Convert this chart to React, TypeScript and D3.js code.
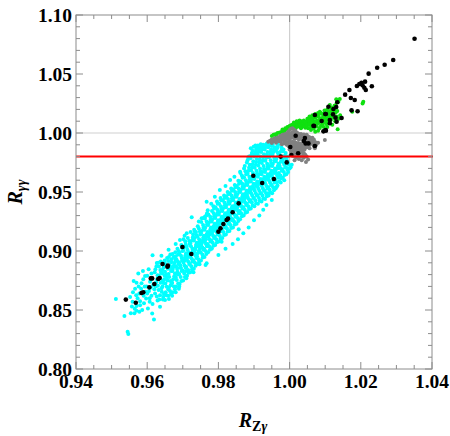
import React from 'react';
import * as d3 from 'd3';

// axis ticks and reference lines
const xTicks = [0.94, 0.96, 0.98, 1.0, 1.02, 1.04];
const yTicks = [0.8, 0.85, 0.9, 0.95, 1.0, 1.05, 1.1];
const redLineY = 0.98;
const gridX = 1.0;
const gridY = 1.0;

// points: [R_Zgamma, R_gammagamma]
const cyanPoints: [number, number][] = [
  [0.9512, 0.8593], [0.9536, 0.8449], [0.9545, 0.8316], [0.9547, 0.8297], [0.9554, 0.8472],
  [0.9552, 0.861], [0.9557, 0.853], [0.9564, 0.8472], [0.957, 0.8494], [0.9578, 0.8486],
  [0.9569, 0.8624], [0.957, 0.8534], [0.9591, 0.8557], [0.9594, 0.8788], [0.957, 0.8731],
  [0.9584, 0.8726], [0.9578, 0.864], [0.9597, 0.8598], [0.9607, 0.857], [0.9602, 0.8513],
  [0.9614, 0.847], [0.9619, 0.842], [0.9562, 0.8745], [0.9575, 0.881], [0.9588, 0.883],
  [0.96, 0.879], [0.9566, 0.868], [0.9583, 0.868], [0.959, 0.862], [0.9598, 0.87],
  [0.9605, 0.866], [0.9559, 0.857], [0.9586, 0.85], [0.9604, 0.8845], [0.9612, 0.881],
  [0.9615, 0.8963], [0.958, 0.8575], [0.9595, 0.8655], [0.9608, 0.874], [0.9612, 0.862],
  [0.9617, 0.8712], [0.956, 0.865], [0.9573, 0.86], [0.958, 0.854], [0.9593, 0.87],
  [0.96, 0.864], [0.961, 0.869], [0.9607, 0.86], [0.9615, 0.855], [0.9589, 0.876],
  [0.9576, 0.87], [0.9565, 0.851], [0.9612, 0.876],
  [0.9622, 0.864], [0.9624, 0.87], [0.9628, 0.876], [0.9621, 0.882], [0.9626, 0.887],
  [0.9629, 0.858], [0.9634, 0.859], [0.9636, 0.8527], [0.9632, 0.867], [0.9638, 0.873],
  [0.9633, 0.879], [0.9637, 0.884], [0.9631, 0.89],
  [0.9627, 0.8615], [0.962, 0.8675], [0.9625, 0.8735], [0.9629, 0.8795], [0.9623, 0.8845],
  [0.9627, 0.8898], [0.9636, 0.8625], [0.963, 0.8705], [0.9635, 0.8765], [0.9639, 0.8815],
  [0.9633, 0.8868], [0.9638, 0.8912],
  [0.9641, 0.8654], [0.9645, 0.861], [0.9643, 0.87], [0.9648, 0.876], [0.9642, 0.881],
  [0.9646, 0.886], [0.9649, 0.892], [0.9644, 0.8745], [0.9647, 0.8635], [0.964, 0.8685],
  [0.9646, 0.8728], [0.9649, 0.879], [0.9643, 0.8838], [0.9647, 0.8895], [0.9644, 0.859],
  [0.965, 0.8584], [0.9655, 0.8697], [0.9652, 0.865], [0.9657, 0.875], [0.9653, 0.88],
  [0.9658, 0.885], [0.9651, 0.889], [0.9656, 0.894], [0.9659, 0.862], [0.9654, 0.8625],
  [0.9659, 0.8675], [0.9651, 0.8725], [0.9656, 0.8778], [0.965, 0.8825], [0.9654, 0.8872],
  [0.9659, 0.8915],
  [0.9661, 0.8593], [0.9664, 0.866], [0.9669, 0.8726], [0.9662, 0.878], [0.9667, 0.883],
  [0.9663, 0.888], [0.9668, 0.893], [0.9665, 0.897], [0.9666, 0.871], [0.9669, 0.886],
  [0.9667, 0.8635], [0.9661, 0.869], [0.9665, 0.8745], [0.966, 0.8805], [0.9664, 0.8855],
  [0.9668, 0.8905], [0.9661, 0.895],
  [0.9671, 0.865], [0.9675, 0.87], [0.9673, 0.876], [0.9678, 0.881], [0.9672, 0.885],
  [0.9677, 0.89], [0.9674, 0.895], [0.9679, 0.899], [0.9676, 0.887], [0.9678, 0.8675],
  [0.967, 0.873], [0.9676, 0.8785], [0.9671, 0.883], [0.9675, 0.8878], [0.9679, 0.8925],
  [0.9671, 0.8975],
  [0.9683, 0.8754], [0.9681, 0.87], [0.9686, 0.88], [0.9684, 0.885], [0.9688, 0.889],
  [0.9682, 0.893], [0.9687, 0.897], [0.9685, 0.902], [0.9692, 0.9093], [0.9689, 0.868],
  [0.9687, 0.8725], [0.968, 0.8778], [0.9685, 0.8825], [0.9681, 0.887], [0.9686, 0.891],
  [0.968, 0.8955], [0.9688, 0.9],
  [0.9691, 0.872], [0.9694, 0.878], [0.9697, 0.883], [0.9693, 0.888], [0.9698, 0.892],
  [0.9695, 0.896], [0.9699, 0.9], [0.9696, 0.905], [0.9692, 0.886], [0.9696, 0.8745],
  [0.969, 0.8805], [0.9695, 0.8855], [0.969, 0.89], [0.9697, 0.894], [0.9691, 0.8985],
  [0.9698, 0.903],
  [0.9701, 0.875], [0.9704, 0.881], [0.9708, 0.886], [0.9702, 0.89], [0.9706, 0.894],
  [0.9709, 0.898], [0.9703, 0.903], [0.9707, 0.908], [0.9705, 0.892], [0.9709, 0.883],
  [0.9706, 0.878], [0.97, 0.8835], [0.9705, 0.8878], [0.97, 0.8918], [0.9707, 0.896],
  [0.9701, 0.9005], [0.9708, 0.9055], [0.9702, 0.91],
  [0.9712, 0.879], [0.9715, 0.884], [0.9718, 0.889], [0.9711, 0.893], [0.9716, 0.897],
  [0.9713, 0.901], [0.9719, 0.906], [0.9714, 0.911], [0.9717, 0.895], [0.9716, 0.8815],
  [0.971, 0.8865], [0.9715, 0.891], [0.971, 0.8952], [0.9717, 0.899], [0.9711, 0.9035],
  [0.9718, 0.9085],
  [0.9721, 0.882], [0.9724, 0.887], [0.9727, 0.891], [0.9722, 0.896], [0.9728, 0.9],
  [0.9723, 0.904], [0.9726, 0.909], [0.9729, 0.914], [0.9725, 0.9285], [0.9725, 0.898],
  [0.9726, 0.8845], [0.972, 0.889], [0.9725, 0.8935], [0.972, 0.8978], [0.9727, 0.902],
  [0.9721, 0.9065], [0.9728, 0.9115], [0.9722, 0.916],
  [0.9731, 0.885], [0.9734, 0.89], [0.9738, 0.894], [0.9732, 0.899], [0.9736, 0.903],
  [0.9739, 0.907], [0.9733, 0.911], [0.9737, 0.916], [0.9735, 0.901], [0.9736, 0.8875],
  [0.973, 0.892], [0.9735, 0.8965], [0.973, 0.9008], [0.9737, 0.905], [0.9731, 0.909],
  [0.9738, 0.9135], [0.9732, 0.918],
  [0.9741, 0.889], [0.9744, 0.893], [0.9747, 0.8887], [0.9742, 0.898], [0.9748, 0.902],
  [0.9743, 0.906], [0.9746, 0.91], [0.9749, 0.914], [0.9745, 0.919], [0.9747, 0.904],
  [0.9746, 0.891], [0.974, 0.8955], [0.9745, 0.9], [0.974, 0.904], [0.9747, 0.908],
  [0.9741, 0.912], [0.9748, 0.9165], [0.9742, 0.921],
  [0.9751, 0.892], [0.9755, 0.897], [0.9758, 0.901], [0.9752, 0.905], [0.9756, 0.909],
  [0.9759, 0.913], [0.9753, 0.917], [0.9757, 0.922], [0.9754, 0.907], [0.9758, 0.928],
  [0.9756, 0.8945], [0.975, 0.899], [0.9755, 0.903], [0.975, 0.907], [0.9757, 0.911],
  [0.9751, 0.915], [0.9758, 0.9195], [0.9752, 0.9245],
  [0.9761, 0.895], [0.9764, 0.9], [0.9768, 0.904], [0.9762, 0.908], [0.9766, 0.912],
  [0.9769, 0.916], [0.9763, 0.92], [0.9767, 0.925], [0.9765, 0.91], [0.9768, 0.932],
  [0.9766, 0.8975], [0.976, 0.902], [0.9765, 0.906], [0.976, 0.91], [0.9767, 0.914],
  [0.9761, 0.918], [0.9768, 0.9225], [0.9762, 0.9275], [0.9766, 0.93],
  [0.9771, 0.899], [0.9774, 0.904], [0.9778, 0.908], [0.9772, 0.912], [0.9776, 0.916],
  [0.9779, 0.92], [0.9773, 0.924], [0.9777, 0.929], [0.9775, 0.914], [0.9764, 0.8881],
  [0.9776, 0.901], [0.977, 0.906], [0.9775, 0.91], [0.977, 0.914], [0.9777, 0.918],
  [0.9771, 0.922], [0.9778, 0.9265], [0.9772, 0.931], [0.977, 0.9345],
  [0.9781, 0.902], [0.9784, 0.907], [0.9788, 0.911], [0.9782, 0.915], [0.9786, 0.919],
  [0.9789, 0.923], [0.9783, 0.927], [0.9787, 0.932], [0.9785, 0.917], [0.9788, 0.936],
  [0.9786, 0.9045], [0.978, 0.909], [0.9785, 0.913], [0.978, 0.917], [0.9787, 0.921],
  [0.9781, 0.925], [0.9788, 0.9295], [0.9782, 0.934], [0.9786, 0.938],
  [0.9791, 0.905], [0.9794, 0.91], [0.9798, 0.914], [0.9792, 0.918], [0.9796, 0.922],
  [0.9799, 0.926], [0.9793, 0.93], [0.9797, 0.935], [0.9795, 0.92], [0.9798, 0.94],
  [0.9796, 0.9075], [0.979, 0.912], [0.9795, 0.916], [0.979, 0.92], [0.9797, 0.924],
  [0.9791, 0.928], [0.9798, 0.9325], [0.9792, 0.937], [0.9796, 0.942],
  [0.9801, 0.908], [0.9804, 0.913], [0.9808, 0.917], [0.9802, 0.921], [0.9806, 0.925],
  [0.9809, 0.929], [0.9803, 0.933], [0.9807, 0.938], [0.9805, 0.923], [0.9808, 0.943],
  [0.9806, 0.9105], [0.98, 0.915], [0.9805, 0.919], [0.98, 0.923], [0.9807, 0.927],
  [0.9801, 0.931], [0.9808, 0.9355], [0.9802, 0.94], [0.9806, 0.945],
  [0.9811, 0.911], [0.9814, 0.916], [0.9818, 0.92], [0.9812, 0.924], [0.9816, 0.928],
  [0.9819, 0.932], [0.9813, 0.936], [0.9817, 0.941], [0.9815, 0.926], [0.9818, 0.945],
  [0.9816, 0.9135], [0.981, 0.918], [0.9815, 0.922], [0.981, 0.926], [0.9817, 0.93],
  [0.9811, 0.934], [0.9818, 0.9385], [0.9812, 0.943], [0.9816, 0.947],
  [0.9821, 0.914], [0.9824, 0.919], [0.9828, 0.923], [0.9822, 0.927], [0.9826, 0.931],
  [0.9829, 0.935], [0.9823, 0.939], [0.9827, 0.944], [0.9825, 0.929], [0.9828, 0.948],
  [0.9826, 0.9165], [0.982, 0.921], [0.9825, 0.925], [0.982, 0.929], [0.9827, 0.933],
  [0.9821, 0.937], [0.9828, 0.9415], [0.9822, 0.946], [0.9826, 0.95],
  [0.9831, 0.917], [0.9834, 0.922], [0.9838, 0.926], [0.9832, 0.93], [0.9836, 0.934],
  [0.9839, 0.938], [0.9833, 0.942], [0.9837, 0.947], [0.9835, 0.932], [0.9838, 0.951],
  [0.9836, 0.9195], [0.983, 0.924], [0.9835, 0.928], [0.983, 0.932], [0.9837, 0.936],
  [0.9831, 0.94], [0.9838, 0.9445], [0.9832, 0.949], [0.9836, 0.953],
  [0.9841, 0.92], [0.9844, 0.925], [0.9848, 0.929], [0.9842, 0.933], [0.9846, 0.937],
  [0.9849, 0.941], [0.9843, 0.945], [0.9847, 0.95], [0.9845, 0.935], [0.9848, 0.954],
  [0.9846, 0.9225], [0.984, 0.927], [0.9845, 0.931], [0.984, 0.935], [0.9847, 0.939],
  [0.9841, 0.943], [0.9848, 0.9475], [0.9842, 0.952], [0.9846, 0.956],
  [0.9851, 0.923], [0.9854, 0.928], [0.9858, 0.932], [0.9852, 0.936], [0.9856, 0.94],
  [0.9859, 0.944], [0.9853, 0.948], [0.9857, 0.953], [0.9855, 0.938], [0.9858, 0.957],
  [0.9857, 0.9185], [0.9856, 0.9255], [0.985, 0.93], [0.9855, 0.934], [0.985, 0.938],
  [0.9857, 0.942], [0.9851, 0.946], [0.9858, 0.9505], [0.9852, 0.955], [0.9856, 0.9595],
  [0.9861, 0.927], [0.9864, 0.932], [0.9868, 0.936], [0.9862, 0.94], [0.9866, 0.944],
  [0.9869, 0.948], [0.9863, 0.952], [0.9867, 0.957], [0.9865, 0.942], [0.9868, 0.962],
  [0.9862, 0.966], [0.9866, 0.9295], [0.986, 0.934], [0.9865, 0.938], [0.986, 0.942],
  [0.9867, 0.946], [0.9861, 0.95], [0.9868, 0.9545], [0.9862, 0.959], [0.9866, 0.964],
  [0.9871, 0.93], [0.9874, 0.935], [0.9878, 0.939], [0.9872, 0.943], [0.9876, 0.947],
  [0.9879, 0.951], [0.9873, 0.955], [0.9877, 0.96], [0.9875, 0.945], [0.9878, 0.965],
  [0.9872, 0.97], [0.9876, 0.9325], [0.987, 0.937], [0.9875, 0.941], [0.987, 0.945],
  [0.9877, 0.949], [0.9871, 0.953], [0.9878, 0.9575], [0.9872, 0.9625], [0.9876, 0.9675],
  [0.9874, 0.972],
  [0.9881, 0.933], [0.9884, 0.938], [0.9888, 0.942], [0.9882, 0.946], [0.9886, 0.95],
  [0.9889, 0.954], [0.9883, 0.958], [0.9887, 0.963], [0.9885, 0.968], [0.9888, 0.973],
  [0.9882, 0.977], [0.9886, 0.98], [0.9886, 0.9355], [0.988, 0.94], [0.9885, 0.944],
  [0.988, 0.948], [0.9887, 0.952], [0.9881, 0.956], [0.9888, 0.9605], [0.9882, 0.9655],
  [0.9886, 0.9705], [0.988, 0.975], [0.9884, 0.979],
  [0.9891, 0.936], [0.9894, 0.941], [0.9898, 0.945], [0.9892, 0.949], [0.9896, 0.953],
  [0.9899, 0.957], [0.9893, 0.961], [0.9897, 0.966], [0.9895, 0.971], [0.9898, 0.976],
  [0.9892, 0.981], [0.9896, 0.985], [0.9899, 0.9884], [0.9896, 0.9385], [0.989, 0.943],
  [0.9895, 0.947], [0.989, 0.951], [0.9897, 0.955], [0.9891, 0.959], [0.9898, 0.9635],
  [0.9892, 0.9685], [0.9896, 0.9735], [0.989, 0.9785], [0.9894, 0.983], [0.9891, 0.987],
  [0.9901, 0.938], [0.9904, 0.943], [0.9908, 0.947], [0.9902, 0.951], [0.9906, 0.955],
  [0.9909, 0.959], [0.9903, 0.963], [0.9907, 0.968], [0.9905, 0.973], [0.9908, 0.978],
  [0.9902, 0.982], [0.9906, 0.986], [0.9904, 0.9895], [0.9906, 0.9405], [0.99, 0.945],
  [0.9905, 0.949], [0.99, 0.953], [0.9907, 0.957], [0.9901, 0.961], [0.9908, 0.9655],
  [0.9902, 0.9705], [0.9906, 0.9755], [0.99, 0.98], [0.9904, 0.984], [0.9908, 0.9875],
  [0.9911, 0.94], [0.9914, 0.945], [0.9918, 0.949], [0.9912, 0.953], [0.9916, 0.957],
  [0.9919, 0.961], [0.9913, 0.965], [0.9917, 0.97], [0.9915, 0.975], [0.9918, 0.98],
  [0.9912, 0.984], [0.9916, 0.988], [0.9919, 0.9905], [0.9916, 0.9425], [0.991, 0.947],
  [0.9915, 0.951], [0.991, 0.955], [0.9917, 0.959], [0.9911, 0.963], [0.9918, 0.9675],
  [0.9912, 0.9725], [0.9916, 0.9775], [0.991, 0.982], [0.9914, 0.986], [0.9911, 0.9895],
  [0.9921, 0.942], [0.9924, 0.947], [0.9928, 0.951], [0.9922, 0.955], [0.9926, 0.959],
  [0.9929, 0.963], [0.9923, 0.967], [0.9927, 0.972], [0.9925, 0.977], [0.9928, 0.982],
  [0.9922, 0.986], [0.9926, 0.99], [0.9926, 0.9445], [0.992, 0.949], [0.9925, 0.953],
  [0.992, 0.957], [0.9927, 0.961], [0.9921, 0.965], [0.9928, 0.9695], [0.9922, 0.9745],
  [0.9926, 0.9795], [0.992, 0.984], [0.9924, 0.988],
  [0.9931, 0.944], [0.9934, 0.949], [0.9938, 0.953], [0.9932, 0.957], [0.9936, 0.961],
  [0.9939, 0.965], [0.9933, 0.969], [0.9937, 0.974], [0.9935, 0.979], [0.9938, 0.984],
  [0.9932, 0.988], [0.9936, 0.991], [0.9936, 0.9465], [0.993, 0.951], [0.9935, 0.955],
  [0.993, 0.959], [0.9937, 0.963], [0.9931, 0.967], [0.9938, 0.9715], [0.9932, 0.9765],
  [0.9936, 0.9815], [0.993, 0.986], [0.9934, 0.99],
  [0.9941, 0.947], [0.9944, 0.952], [0.9948, 0.956], [0.9942, 0.96], [0.9946, 0.964],
  [0.9949, 0.968], [0.9943, 0.972], [0.9947, 0.977], [0.9945, 0.982], [0.9948, 0.986],
  [0.9942, 0.99], [0.9946, 0.9495], [0.994, 0.954], [0.9945, 0.958], [0.994, 0.962],
  [0.9947, 0.966], [0.9941, 0.97], [0.9948, 0.9745], [0.9942, 0.9795], [0.9946, 0.984],
  [0.994, 0.988],
  [0.9951, 0.949], [0.9954, 0.954], [0.9958, 0.958], [0.9952, 0.962], [0.9956, 0.966],
  [0.9959, 0.97], [0.9953, 0.974], [0.9957, 0.979], [0.9955, 0.984], [0.9958, 0.988],
  [0.9952, 0.9905], [0.9956, 0.9515], [0.995, 0.956], [0.9955, 0.96], [0.995, 0.964],
  [0.9957, 0.968], [0.9951, 0.972], [0.9958, 0.9765], [0.9952, 0.9815], [0.9956, 0.986],
  [0.995, 0.989],
  [0.9961, 0.953], [0.9964, 0.958], [0.9968, 0.962], [0.9962, 0.966], [0.9966, 0.97],
  [0.9969, 0.974], [0.9963, 0.978], [0.9967, 0.983], [0.9965, 0.987], [0.9968, 0.99],
  [0.9966, 0.9555], [0.996, 0.96], [0.9965, 0.964], [0.996, 0.968], [0.9967, 0.972],
  [0.9961, 0.976], [0.9968, 0.9805], [0.9962, 0.985], [0.9966, 0.9885],
  [0.9971, 0.959], [0.9974, 0.964], [0.9978, 0.968], [0.9972, 0.972], [0.9976, 0.976],
  [0.9979, 0.98], [0.9973, 0.984], [0.9977, 0.988], [0.9976, 0.9615], [0.997, 0.966],
  [0.9975, 0.97], [0.997, 0.974], [0.9977, 0.978], [0.9971, 0.982], [0.9978, 0.986],
  [0.9981, 0.962], [0.9984, 0.967], [0.9988, 0.971], [0.9982, 0.975], [0.9986, 0.979],
  [0.9989, 0.983], [0.9983, 0.986], [0.9986, 0.9645], [0.998, 0.969], [0.9985, 0.973],
  [0.998, 0.977], [0.9987, 0.981], [0.9981, 0.9845],
  [0.9991, 0.965], [0.9994, 0.969], [0.9998, 0.973], [0.9992, 0.977], [0.9996, 0.98],
  [0.9996, 0.967], [0.999, 0.971], [0.9995, 0.975], [0.999, 0.979], [1.0, 0.97],
  [1.0003, 0.971], [1.0006, 0.973],
  // scattered points along the lower-right edge
  [0.9926, 0.935], [0.9915, 0.93], [0.99, 0.926], [0.9885, 0.92], [0.987, 0.915],
  [0.9855, 0.91], [0.984, 0.906], [0.982, 0.902], [0.98, 0.8966], [0.9767, 0.8896],
  [0.9781, 0.9023], [0.9809, 0.9079], [0.995, 0.9432], [0.9964, 0.9545], [0.994, 0.9489],
  [0.9975, 0.958], [0.9985, 0.96], [0.9935, 0.939], [0.973, 0.882], [0.971, 0.877],
  [0.969, 0.87], [0.967, 0.862], [0.968, 0.865],
  // scattered points along the upper-left edge
  [0.9711, 0.915], [0.9734, 0.9164], [0.9753, 0.9277], [0.9762, 0.929], [0.9767, 0.9418],
  [0.9804, 0.9517], [0.9833, 0.9602], [0.9861, 0.9672], [0.979, 0.946], [0.978, 0.94],
  [0.9745, 0.925], [0.9705, 0.913], [0.968, 0.906], [0.966, 0.901], [0.964, 0.896],
  [0.9845, 0.963], [0.982, 0.955],
];

const greenPoints: [number, number][] = [
  [0.995, 0.9975], [0.9955, 0.9985], [0.996, 0.999], [0.9966, 1.0], [0.9972, 1.0005],
  [0.9978, 1.001], [0.9984, 1.002], [0.999, 1.003], [0.9996, 1.004], [0.9962, 0.9978],
  [0.9974, 0.9992], [0.9986, 1.0003], [0.9998, 1.0052], [0.998, 1.003], [0.9988, 1.004],
  [0.9994, 1.005], [1.0, 1.006],
  [1.0002, 1.0045], [1.0006, 1.0055], [1.001, 1.005], [1.0014, 1.006], [1.0018, 1.0045],
  [1.0022, 1.0065], [1.0026, 1.0055], [1.003, 1.007], [1.0034, 1.005], [1.0038, 1.0075],
  [1.0004, 1.0065], [1.0012, 1.0075], [1.002, 1.008], [1.0028, 1.0085], [1.0036, 1.009],
  [1.0016, 1.0035], [1.0032, 1.004], [1.0008, 1.007], [1.0016, 1.008], [1.0024, 1.0095],
  [1.0032, 1.01], [1.004, 1.0105], [1.0012, 1.009], [1.002, 1.01], [1.0028, 1.0105],
  [1.0042, 1.006], [1.0046, 1.008], [1.005, 1.0065], [1.0054, 1.009], [1.0058, 1.007],
  [1.0062, 1.0095], [1.0066, 1.0075], [1.007, 1.01], [1.0074, 1.008], [1.0078, 1.0105],
  [1.0044, 1.0045], [1.0052, 1.004], [1.006, 1.005], [1.0068, 1.0035], [1.0076, 1.0055],
  [1.0048, 1.01], [1.0056, 1.011], [1.0064, 1.012], [1.0072, 1.013], [1.008, 1.014],
  [1.0072, 1.001], [1.008, 1.002], [1.0044, 1.009], [1.005, 1.012], [1.0058, 1.0125],
  [1.0066, 1.0135], [1.0074, 1.0145], [1.0082, 1.0155], [1.004, 1.006], [1.0048, 1.007],
  [1.0056, 1.0075], [1.0064, 1.0085], [1.0072, 1.0095], [1.006, 1.0025], [1.0068, 1.0055],
  [1.0076, 1.007], [1.0056, 1.014], [1.0064, 1.015], [1.0072, 1.016], [1.008, 1.017],
  [1.0082, 1.0085], [1.0086, 1.011], [1.009, 1.0095], [1.0094, 1.012], [1.0098, 1.0105],
  [1.0102, 1.013], [1.0106, 1.0115], [1.011, 1.014], [1.0114, 1.0125], [1.0118, 1.015],
  [1.0085, 1.0181], [1.0097, 1.011], [1.0088, 1.006], [1.0096, 1.005], [1.0104, 1.0075],
  [1.0112, 1.0085], [1.0092, 1.016], [1.01, 1.017], [1.0108, 1.0175], [1.0116, 1.019],
  [1.0113, 1.0237], [1.0088, 1.017], [1.0096, 1.014], [1.0104, 1.0155], [1.0112, 1.0165],
  [1.008, 1.01], [1.0086, 1.0125], [1.0094, 1.0135], [1.01, 1.0145], [1.0108, 1.015],
  [1.0116, 1.016], [1.0084, 1.004], [1.0092, 1.0075], [1.01, 1.009], [1.0108, 1.01],
  [1.0116, 1.011], [1.0106, 1.005], [1.0098, 1.019], [1.0106, 1.02], [1.0118, 1.0215],
  [1.0122, 1.016], [1.0126, 1.014], [1.013, 1.0175], [1.0134, 1.0186], [1.0129, 1.0235],
  [1.0131, 1.0287], [1.0133, 1.026], [1.0137, 1.0265], [1.0141, 1.0288], [1.0135, 1.0031],
  [1.0128, 1.01], [1.0138, 1.012], [1.0142, 1.015], [1.0124, 1.0205], [1.012, 1.018],
  [1.0126, 1.0195], [1.012, 1.007], [1.0124, 1.013], [1.0132, 1.014], [1.0126, 1.023],
  [1.0176, 1.0181], [1.0205, 1.0251], [1.0207, 1.0265],
];

const grayPoints: [number, number][] = [
  [0.994, 0.9926], [0.9945, 0.9935], [0.995, 0.9945], [0.9955, 0.993], [0.9958, 0.9955],
  [0.9962, 0.994], [0.9966, 0.9962], [0.997, 0.9948], [0.9973, 0.9975], [0.9977, 0.9958],
  [0.998, 0.9985], [0.9983, 0.9965], [0.9986, 0.999], [0.9989, 0.997], [0.9992, 0.9995],
  [0.9995, 0.9978], [0.995, 0.9915], [0.9962, 0.9918], [0.9975, 0.9925], [0.9985, 0.9935],
  [0.997, 0.993], [0.9978, 0.994], [0.9982, 0.995], [0.9988, 0.9945], [0.999, 0.992],
  [0.9984, 0.991], [0.9978, 0.9905], [0.9992, 0.99], [0.9996, 0.9895],
  [0.9996, 1.001], [1.0, 1.0025], [1.0004, 1.0035], [1.0008, 1.004], [1.0012, 1.003],
  [1.0016, 1.002], [1.0, 0.9985], [1.0004, 0.9995], [1.0008, 1.0005], [1.0012, 1.0],
  [1.0016, 0.999], [1.002, 1.0005], [1.0024, 0.9995], [1.0028, 0.9985], [1.0032, 0.9992],
  [1.0036, 0.998], [1.004, 0.9988], [1.0044, 0.9975], [1.0048, 0.9985], [1.0052, 0.997],
  [1.0056, 0.9965], [1.006, 0.9955], [1.0064, 0.996], [1.0068, 0.9945],
  [1.0002, 0.997], [1.0006, 0.998], [1.001, 0.9985], [1.0014, 0.9975], [1.0018, 0.998],
  [1.0022, 0.9975], [1.0026, 0.997], [1.003, 0.9975], [1.0034, 0.9968], [1.0038, 0.9962],
  [1.0042, 0.996], [1.0046, 0.9955], [1.005, 0.9958], [1.0054, 0.995], [1.0058, 0.9945],
  [1.0062, 0.994], [1.0066, 0.9935], [1.007, 0.9925], [1.0074, 0.992],
  [0.9994, 0.995], [0.9998, 0.996], [1.0002, 0.9955], [1.0006, 0.9965], [1.001, 0.996],
  [1.0014, 0.995], [1.0018, 0.9965], [1.0022, 0.9955], [1.0026, 0.9945], [1.003, 0.996],
  [1.0034, 0.995], [1.0038, 0.994], [1.0042, 0.9945], [1.0046, 0.993], [1.005, 0.994],
  [1.0054, 0.9925], [1.0058, 0.993], [1.0062, 0.9915], [1.0066, 0.991], [1.007, 0.9905],
  [1.0058, 0.9905], [1.0054, 0.9895], [1.005, 0.9905], [1.0046, 0.991],
  [0.9996, 0.992], [1.0, 0.993], [1.0004, 0.9915], [1.0008, 0.9925], [1.0012, 0.991],
  [1.0016, 0.992], [1.002, 0.9905], [1.0024, 0.9915], [1.0028, 0.99], [1.0032, 0.991],
  [1.0036, 0.9895], [1.004, 0.9905], [1.0044, 0.989], [1.0048, 0.988], [1.0052, 0.988],
  [1.0056, 0.987], [1.0006, 0.99], [1.001, 0.9895], [1.0014, 0.99], [1.0018, 0.9895],
  [1.0022, 0.989], [1.0026, 0.988], [1.003, 0.9885], [1.0034, 0.9875], [1.0038, 0.987],
  [1.0042, 0.986],
  [0.9998, 0.9885], [1.0002, 0.987], [1.0006, 0.988], [1.001, 0.9865], [1.0014, 0.9875],
  [1.0018, 0.986], [1.0022, 0.987], [1.0026, 0.9855], [1.003, 0.9862], [1.0, 0.986],
  [1.0004, 0.9855], [1.0008, 0.985], [1.0012, 0.988], [1.0034, 0.985], [1.003, 0.984],
  [1.0004, 0.984], [1.0008, 0.983], [1.0012, 0.9845], [1.0016, 0.982], [1.002, 0.9835],
  [1.0024, 0.981], [1.0028, 0.9825], [1.0032, 0.98], [1.001, 0.9805], [1.0018, 0.979],
  [1.0026, 0.978], [1.0034, 0.977], [1.004, 0.979], [1.0046, 0.9755], [1.0052, 0.9775],
  [1.0014, 0.977], [1.0036, 0.984], [1.004, 0.983], [1.0044, 0.9815], [1.0048, 0.98],
  [1.0038, 0.981],
  [1.0071, 0.987], [1.0099, 0.9941], [1.008, 0.9918], [1.0075, 0.99], [1.0068, 0.989],
];

const blackPoints: [number, number][] = [
  [1.0351, 1.0799], [1.0291, 1.0619], [1.0267, 1.0579], [1.0246, 1.0553], [1.0222, 1.0503],
  [1.0212, 1.0435], [1.0202, 1.0426], [1.0196, 1.0415], [1.0205, 1.0404], [1.021, 1.0384],
  [1.0214, 1.0364], [1.0189, 1.0398], [1.0231, 1.0396], [1.0168, 1.0364], [1.0156, 1.0325],
  [1.0172, 1.0297], [1.0183, 1.028], [1.0191, 1.0184], [1.0174, 1.0192], [1.0131, 1.022],
  [1.0134, 1.026], [1.0123, 1.0203], [1.0109, 1.0223], [1.0122, 1.0158], [1.0102, 1.0161],
  [1.0146, 1.0127], [1.0129, 1.013], [1.0113, 1.011], [1.0132, 1.0096], [1.009, 1.0102],
  [1.0069, 1.0059], [1.0102, 1.002], [1.0095, 1.0014], [1.0043, 0.9958], [1.0017, 0.9977],
  [1.004, 0.9932], [1.0045, 0.9912], [1.0053, 0.9912], [1.0071, 0.989], [1.0024, 0.9828],
  [0.9992, 0.9751], [1.0071, 1.0153], [1.0067, 1.0062], [1.01, 1.0161], [1.0113, 1.0082],
  [1.0101, 1.0025], [1.0002, 0.9881], [1.0005, 0.9814], [0.9975, 0.98],
  [0.9898, 0.9638], [0.9923, 0.9576], [0.9956, 0.961], [0.9857, 0.9404], [0.984, 0.9328],
  [0.9827, 0.9274], [0.9823, 0.9263], [0.9814, 0.9229], [0.9806, 0.9192], [0.98, 0.9164],
  [0.9699, 0.9034], [0.9724, 0.8975], [0.9658, 0.8876], [0.9657, 0.8867], [0.9643, 0.889],
  [0.9635, 0.8771], [0.9631, 0.8763], [0.9614, 0.8768], [0.961, 0.8768], [0.962, 0.872],
  [0.9606, 0.8692], [0.9589, 0.865], [0.9584, 0.8644], [0.9568, 0.8562], [0.954, 0.8588],
];

const serif = 'Liberation Serif, Times New Roman, Times, serif';
const frameColor = '#8c8c8c';

function App() {
  const width = 450;
  const height = 436;
  const margin = { top: 15, right: 18, bottom: 67, left: 76 };

  const xScale = d3
    .scaleLinear()
    .domain([0.94, 1.04])
    .range([margin.left, width - margin.right]);
  const yScale = d3
    .scaleLinear()
    .domain([0.8, 1.1])
    .range([height - margin.bottom, margin.top]);

  const [x0, x1] = xScale.range();
  const [y0, y1] = yScale.range(); // y0 bottom, y1 top
  const fmt = d3.format('.2f');

  const xMinor = xScale.ticks(20);
  const yMinor = yScale.ticks(30);
  const isMajor = (v: number, list: number[]) => list.some((t) => Math.abs(t - v) < 1e-9);

  const dots = (pts: [number, number][], color: string, r: number) =>
    pts.map((d, i) => (
      <circle key={i} cx={xScale(d[0])} cy={yScale(d[1])} r={r} fill={color} />
    ));

  return (
    <svg
      width={width}
      height={height}
      style={{ position: 'absolute', left: 0, top: 0, background: '#fff' }}
    >
      {/* grid lines at 1.00 */}
      <line x1={xScale(gridX)} x2={xScale(gridX)} y1={y0} y2={y1} stroke="#cfcfcf" strokeWidth={1.2} />
      <line x1={x0} x2={x1} y1={yScale(gridY)} y2={yScale(gridY)} stroke="#cfcfcf" strokeWidth={1.2} />

      <g>{dots(cyanPoints, '#00ffff', 2)}</g>
      <g>{dots(greenPoints, '#10e010', 2)}</g>
      <g>{dots(grayPoints, '#808080', 2)}</g>
      <g>{dots(blackPoints, '#000000', 2.3)}</g>

      <line
        x1={x0}
        x2={x1 + 1}
        y1={yScale(redLineY)}
        y2={yScale(redLineY)}
        stroke="#ff0000"
        strokeWidth={2}
      />

      {/* frame */}
      <rect x={x0} y={y1} width={x1 - x0} height={y0 - y1} fill="none" stroke={frameColor} strokeWidth={1} />

      {/* x ticks, bottom and top */}
      {xMinor.map((v) => {
        const len = isMajor(v, xTicks) ? 7 : 4;
        const px = xScale(v);
        return (
          <g key={'xt' + v}>
            <line x1={px} x2={px} y1={y0} y2={y0 - len} stroke={frameColor} />
            <line x1={px} x2={px} y1={y1} y2={y1 + len} stroke={frameColor} />
          </g>
        );
      })}
      {/* y ticks, left and right */}
      {yMinor.map((v) => {
        const len = isMajor(v, yTicks) ? 7 : 4;
        const py = yScale(v);
        return (
          <g key={'yt' + v}>
            <line x1={x0} x2={x0 + len} y1={py} y2={py} stroke={frameColor} />
            <line x1={x1} x2={x1 - len} y1={py} y2={py} stroke={frameColor} />
          </g>
        );
      })}

      {xTicks.map((v) => (
        <text
          key={'xl' + v}
          x={xScale(v)}
          y={y0 + 19}
          textAnchor="middle"
          fontFamily={serif}
          fontWeight="bold"
          fontSize={19.5}
        >
          {fmt(v)}
        </text>
      ))}
      {yTicks.map((v) => (
        <text
          key={'yl' + v}
          x={x0 - 4}
          y={yScale(v) + 6.5}
          textAnchor="end"
          fontFamily={serif}
          fontWeight="bold"
          fontSize={19.5}
        >
          {fmt(v)}
        </text>
      ))}

      {/* axis labels */}
      <text x={253} y={427} textAnchor="middle" fontFamily={serif} fontWeight="bold">
        <tspan fontStyle="italic" fontSize={20}>R</tspan>
        <tspan fontSize={14} dy={4}>Z</tspan>
        <tspan fontSize={14} fontStyle="italic">γ</tspan>
      </text>
      <text
        transform={`translate(22, ${(y0 + y1) / 2}) rotate(-90)`}
        textAnchor="middle"
        fontFamily={serif}
        fontWeight="bold"
      >
        <tspan fontStyle="italic" fontSize={20}>R</tspan>
        <tspan fontSize={14} fontStyle="italic" dy={4}>γγ</tspan>
      </text>
    </svg>
  );
}

export default App;
